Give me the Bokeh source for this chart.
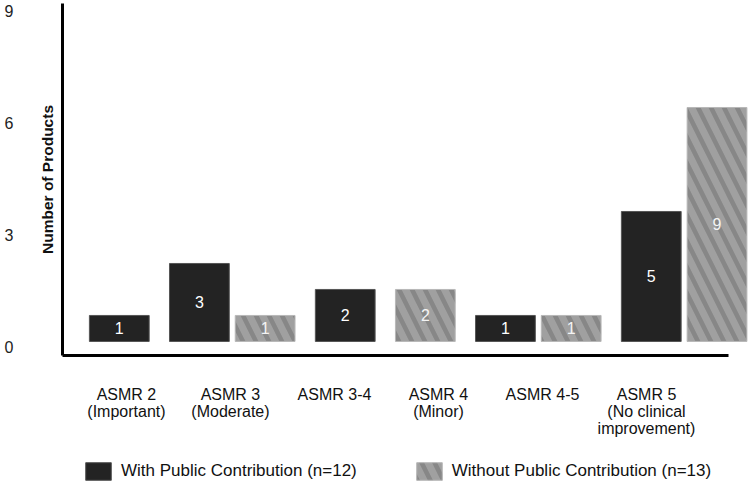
from bokeh.plotting import figure
from bokeh.layouts import column
from bokeh.models import (Range1d, LinearAxis, FixedTicker, ColumnDataSource,
                          Legend, LegendItem)
from bokeh.embed import file_html
from bokeh.resources import INLINE
from bokeh.core.properties import value

# ---- data ----
categories = [
    "ASMR 2\n(Important)",
    "ASMR 3\n(Moderate)",
    "ASMR 3-4",
    "ASMR 4\n(Minor)",
    "ASMR 4-5",
    "ASMR 5\n(No clinical\nimprovement)",
]
with_public = [1, 3, 2, 0, 1, 5]
without_public = [0, 1, 0, 2, 1, 9]
series_names = ["With Public Contribution (n=12)",
                "Without Public Contribution (n=13)"]
y_ticks = [0, 3, 6, 9]

FONT = "Liberation Sans"
BAR_W, INNER_GAP, GROUP_GAP = 1.0, 0.1, 0.34

STYLE_WITH = dict(fill_color="#232323", line_color="#555555", line_width=1)
STYLE_WITHOUT = dict(fill_color="#a0a0a0", line_color="#b8b8b8", line_width=1,
                     hatch_pattern="left_diagonal_line", hatch_color="#878787",
                     hatch_scale=26, hatch_weight=4.6)

# Pack the bars left to right; empty bars are left out, groups get a wider gap.
xs = {0: [], 1: []}
tops = {0: [], 1: []}
cursor = 0.0
for i in range(len(categories)):
    first = True
    for s, vals in enumerate((with_public, without_public)):
        v = vals[i]
        if v == 0:
            continue
        if not first:
            cursor += INNER_GAP
        xs[s].append(cursor + BAR_W / 2)
        tops[s].append(v)
        cursor += BAR_W
        first = False
    cursor += GROUP_GAP


def make_source(s):
    return ColumnDataSource(dict(
        x=xs[s], top=tops[s],
        mid=[t / 2 for t in tops[s]],
        label=[str(t) for t in tops[s]],
    ))


src_with = make_source(0)
src_without = make_source(1)

p = figure(width=750, height=445, output_backend="svg", toolbar_location=None,
           x_range=Range1d(-0.45, 11.06), y_range=Range1d(-0.54, 13.0),
           x_axis_location=None, y_axis_location=None,
           min_border_left=62, min_border_right=0,
           min_border_top=3, min_border_bottom=90)
p.extra_y_ranges = {"count": Range1d(-0.24, 9.19)}
p.extra_x_ranges = {"cat": Range1d(-0.615, 6.0)}
p.outline_line_color = None
p.background_fill_color = "white"
p.border_fill_color = "white"
for g in p.grid:
    g.visible = False

p.vbar(x="x", top="top", bottom=0, width=BAR_W, source=src_with, **STYLE_WITH)
p.vbar(x="x", top="top", bottom=0, width=BAR_W, source=src_without, **STYLE_WITHOUT)

p.text(x="x", y="mid", text="label", source=src_with, text_color="white",
       text_align="center", text_baseline="middle",
       text_font=value(FONT), text_font_size="16px")
p.text(x="x", y="mid", text="label", source=src_without, text_color="#f4f4f4",
       text_align="center", text_baseline="middle",
       text_font=value(FONT), text_font_size="16px")


def bare(axis):
    axis.major_tick_out = 0
    axis.major_tick_in = 0
    axis.minor_tick_out = 0
    axis.minor_tick_in = 0
    return axis


# left side, from the frame outwards: axis line with title, then value labels
ax_line = bare(LinearAxis(ticker=FixedTicker(ticks=[]),
                          axis_label="Number of Products"))
ax_line.axis_line_width = 3
ax_line.axis_line_color = "black"
ax_line.major_label_standoff = 0
ax_line.axis_label_standoff = 7
ax_line.axis_label_text_font = FONT
ax_line.axis_label_text_font_style = "bold"
ax_line.axis_label_text_font_size = "15.5px"
ax_line.axis_label_text_color = "#111111"
p.add_layout(ax_line, "left")

ax_vals = bare(LinearAxis(y_range_name="count", ticker=FixedTicker(ticks=y_ticks)))
ax_vals.axis_line_color = None
ax_vals.major_label_standoff = 22
ax_vals.major_label_text_font = FONT
ax_vals.major_label_text_font_size = "16px"
ax_vals.major_label_text_color = "#222222"
p.add_layout(ax_vals, "left")

# bottom: evenly spaced category labels
ax_x = bare(LinearAxis(x_range_name="cat",
                       ticker=FixedTicker(ticks=list(range(len(categories)))),
                       major_label_overrides={i: c for i, c in enumerate(categories)}))
ax_x.bounds = (-0.615, 5.79)
ax_x.axis_line_width = 3
ax_x.axis_line_color = "black"
ax_x.major_label_standoff = 30
ax_x.major_label_text_font = FONT
ax_x.major_label_text_font_size = "16px"
ax_x.major_label_text_color = "#111111"
ax_x.major_label_text_line_height = 1.0
p.add_layout(ax_x, "below")

# legend strip under the chart; its swatch renderers sit outside the visible range
lg = figure(width=750, height=41, output_backend="svg", toolbar_location=None,
            x_range=Range1d(0, 1), y_range=Range1d(0, 1),
            x_axis_location=None, y_axis_location=None,
            min_border=0, min_border_left=0, min_border_right=0,
            min_border_top=0, min_border_bottom=0)
lg.outline_line_color = None
lg.border_fill_color = "white"
for g in lg.grid:
    g.visible = False
k_with = lg.vbar(x="x", top="top", width=0.1,
                 source=ColumnDataSource(dict(x=[-5], top=[0])), **STYLE_WITH)
k_without = lg.vbar(x="x", top="top", width=0.1,
                    source=ColumnDataSource(dict(x=[-5], top=[0])), **STYLE_WITHOUT)
legend = Legend(items=[LegendItem(label=series_names[0], renderers=[k_with]),
                       LegendItem(label=series_names[1], renderers=[k_without])],
                orientation="horizontal", location=(20, 4),
                glyph_width=32, glyph_height=22, label_standoff=7, spacing=56,
                label_text_font=FONT, label_text_font_size="17px",
                label_text_color="#111111", label_height=22,
                border_line_color=None, background_fill_alpha=0,
                padding=0, margin=0)
lg.add_layout(legend, "center")

layout = column(p, lg, spacing=0)
open("out.html", "w").write(file_html(layout, INLINE))
